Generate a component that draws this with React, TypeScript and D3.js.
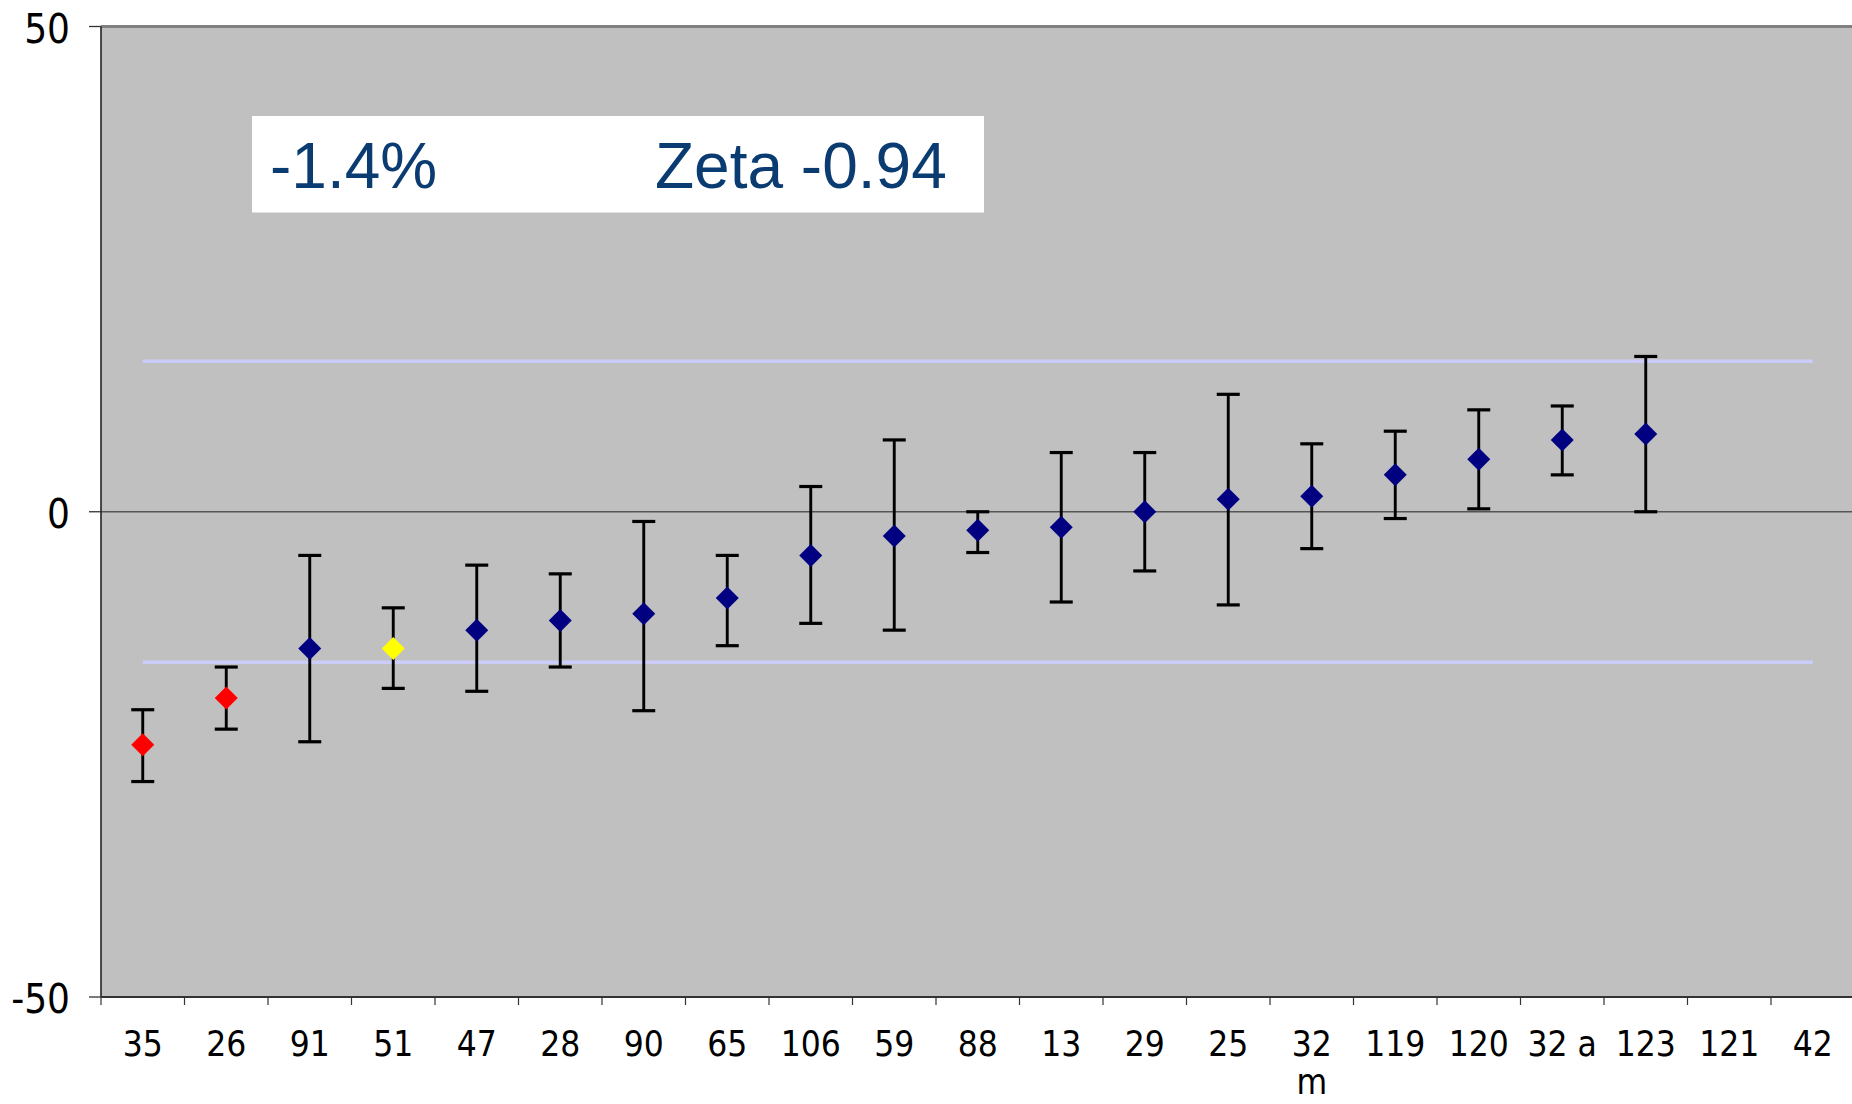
import React from "react";
import * as d3 from "d3";

const categories = ["35", "26", "91", "51", "47", "28", "90", "65", "106", "59", "88", "13", "29", "25", "32\nm", "119", "120", "32 a", "123", "121", "42"];
const values = [-24.0, -19.2, -14.1, -14.1, -12.2, -11.2, -10.5, -8.9, -4.5, -2.5, -1.9, -1.6, 0.0, 1.3, 1.6, 3.8, 5.4, 7.4, 8.0, null, null];
const upper = [-20.4, -16.0, -4.5, -9.9, -5.5, -6.4, -1.0, -4.5, 2.6, 7.4, 0.0, 6.1, 6.1, 12.1, 7.0, 8.3, 10.5, 10.9, 16.0, null, null];
const lower = [-27.8, -22.4, -23.7, -18.2, -18.5, -16.0, -20.5, -13.8, -11.5, -12.2, -4.2, -9.3, -6.1, -9.6, -3.8, -0.7, 0.3, 3.8, 0.0, null, null];
const status = ["out", "out", "ok", "warn", "ok", "ok", "ok", "ok", "ok", "ok", "ok", "ok", "ok", "ok", "ok", "ok", "ok", "ok", "ok", "ok", "ok"];
const limits = [-15.5, 15.5];
const yTicks = [-50, 0, 50];
const annotationLeft = "-1.4%";
const annotationRight = "Zeta -0.94";

const statusColor: Record<string, string> = { out: "#FF0000", warn: "#FFFF00", ok: "#000080" };

const W = 1852, H = 1104;
const plotLeft = 101, plotTop = 26.5, plotBottom = 997, band = 83.5;

export default function App() {
  const x = d3.scaleBand<string>().domain(categories).range([plotLeft, plotLeft + band * categories.length]).padding(0);
  const y = d3.scaleLinear().domain([-50, 50]).range([plotBottom, plotTop]);
  const cx = (c: string) => (x(c) as number) + x.bandwidth() / 2;
  const plotRight = plotLeft + band * categories.length;
  const first = categories[0], last = categories[categories.length - 1];
  const diamond = "M0,-11.5L11.5,0L0,11.5L-11.5,0Z";
  const capHalf = 11.5;
  const labelFont = "'DejaVu Sans Condensed', 'DejaVu Sans', Tahoma, sans-serif";

  return (
    <svg width={W} height={H} style={{ position: "absolute", left: 0, top: 0, background: "#fff" }}>
      <rect x={plotLeft} y={y(50)} width={plotRight - plotLeft} height={y(-50) - y(50)} fill="#C0C0C0" />
      <line x1={plotLeft} x2={plotRight} y1={y(50)} y2={y(50)} stroke="#808080" strokeWidth={3} />
      {limits.map((l, i) => (
        <line key={"lim" + i} x1={cx(first)} x2={cx(last)} y1={y(l)} y2={y(l)} stroke="#CCCCFA" strokeWidth={3.5} />
      ))}
      <line x1={plotLeft} x2={plotRight} y1={y(0)} y2={y(0)} stroke="#555" strokeWidth={1.4} />
      <line x1={plotLeft} x2={plotLeft} y1={y(50)} y2={y(-50)} stroke="#222" strokeWidth={1.6} />
      <line x1={plotLeft} x2={plotRight} y1={y(-50)} y2={y(-50)} stroke="#333" strokeWidth={2.2} />
      {yTicks.map((t) => (
        <g key={"yt" + t}>
          <line x1={plotLeft - 12} x2={plotLeft} y1={y(t)} y2={y(t)} stroke="#333" strokeWidth={1.3} />
          <text x={70} y={y(t) + 16} textAnchor="end" fontFamily={labelFont} fontSize={40} fill="#000">{t}</text>
        </g>
      ))}
      {categories.map((c, i) => (
        <line key={"xt" + i} x1={x(c) as number} x2={x(c) as number} y1={y(-50)} y2={y(-50) + 8} stroke="#333" strokeWidth={1.2} />
      ))}
      {categories.map((c, i) => (
        <text key={"xl" + i} x={cx(c)} y={1056} textAnchor="middle" fontFamily={labelFont} fontSize={35} fill="#000">
          {c.split("\n").map((part, j) => (
            <tspan key={j} x={cx(c)} dy={j === 0 ? 0 : 38}>{part}</tspan>
          ))}
        </text>
      ))}
      {categories.map((c, i) => {
        if (values[i] === null || upper[i] === null || lower[i] === null) return null;
        const px = cx(c);
        return (
          <g key={"eb" + i} stroke="#000" strokeWidth={2.9}>
            <line x1={px} x2={px} y1={y(upper[i] as number)} y2={y(lower[i] as number)} />
            <line x1={px - capHalf} x2={px + capHalf} y1={y(upper[i] as number)} y2={y(upper[i] as number)} strokeWidth={3.2} />
            <line x1={px - capHalf} x2={px + capHalf} y1={y(lower[i] as number)} y2={y(lower[i] as number)} strokeWidth={3.2} />
          </g>
        );
      })}
      {categories.map((c, i) => {
        if (values[i] === null) return null;
        return <path key={"pt" + i} d={diamond} transform={`translate(${cx(c)},${y(values[i] as number)})`} fill={statusColor[status[i]]} />;
      })}
      <rect x={252} y={116} width={732} height={96.5} fill="#fff" />
      <text x={270} y={188} fontFamily="'Liberation Sans', Arial, sans-serif" fontSize={64} fill="#0B3C71">{annotationLeft}</text>
      <text x={655} y={188} fontFamily="'Liberation Sans', Arial, sans-serif" fontSize={64} fill="#0B3C71">{annotationRight}</text>
    </svg>
  );
}
